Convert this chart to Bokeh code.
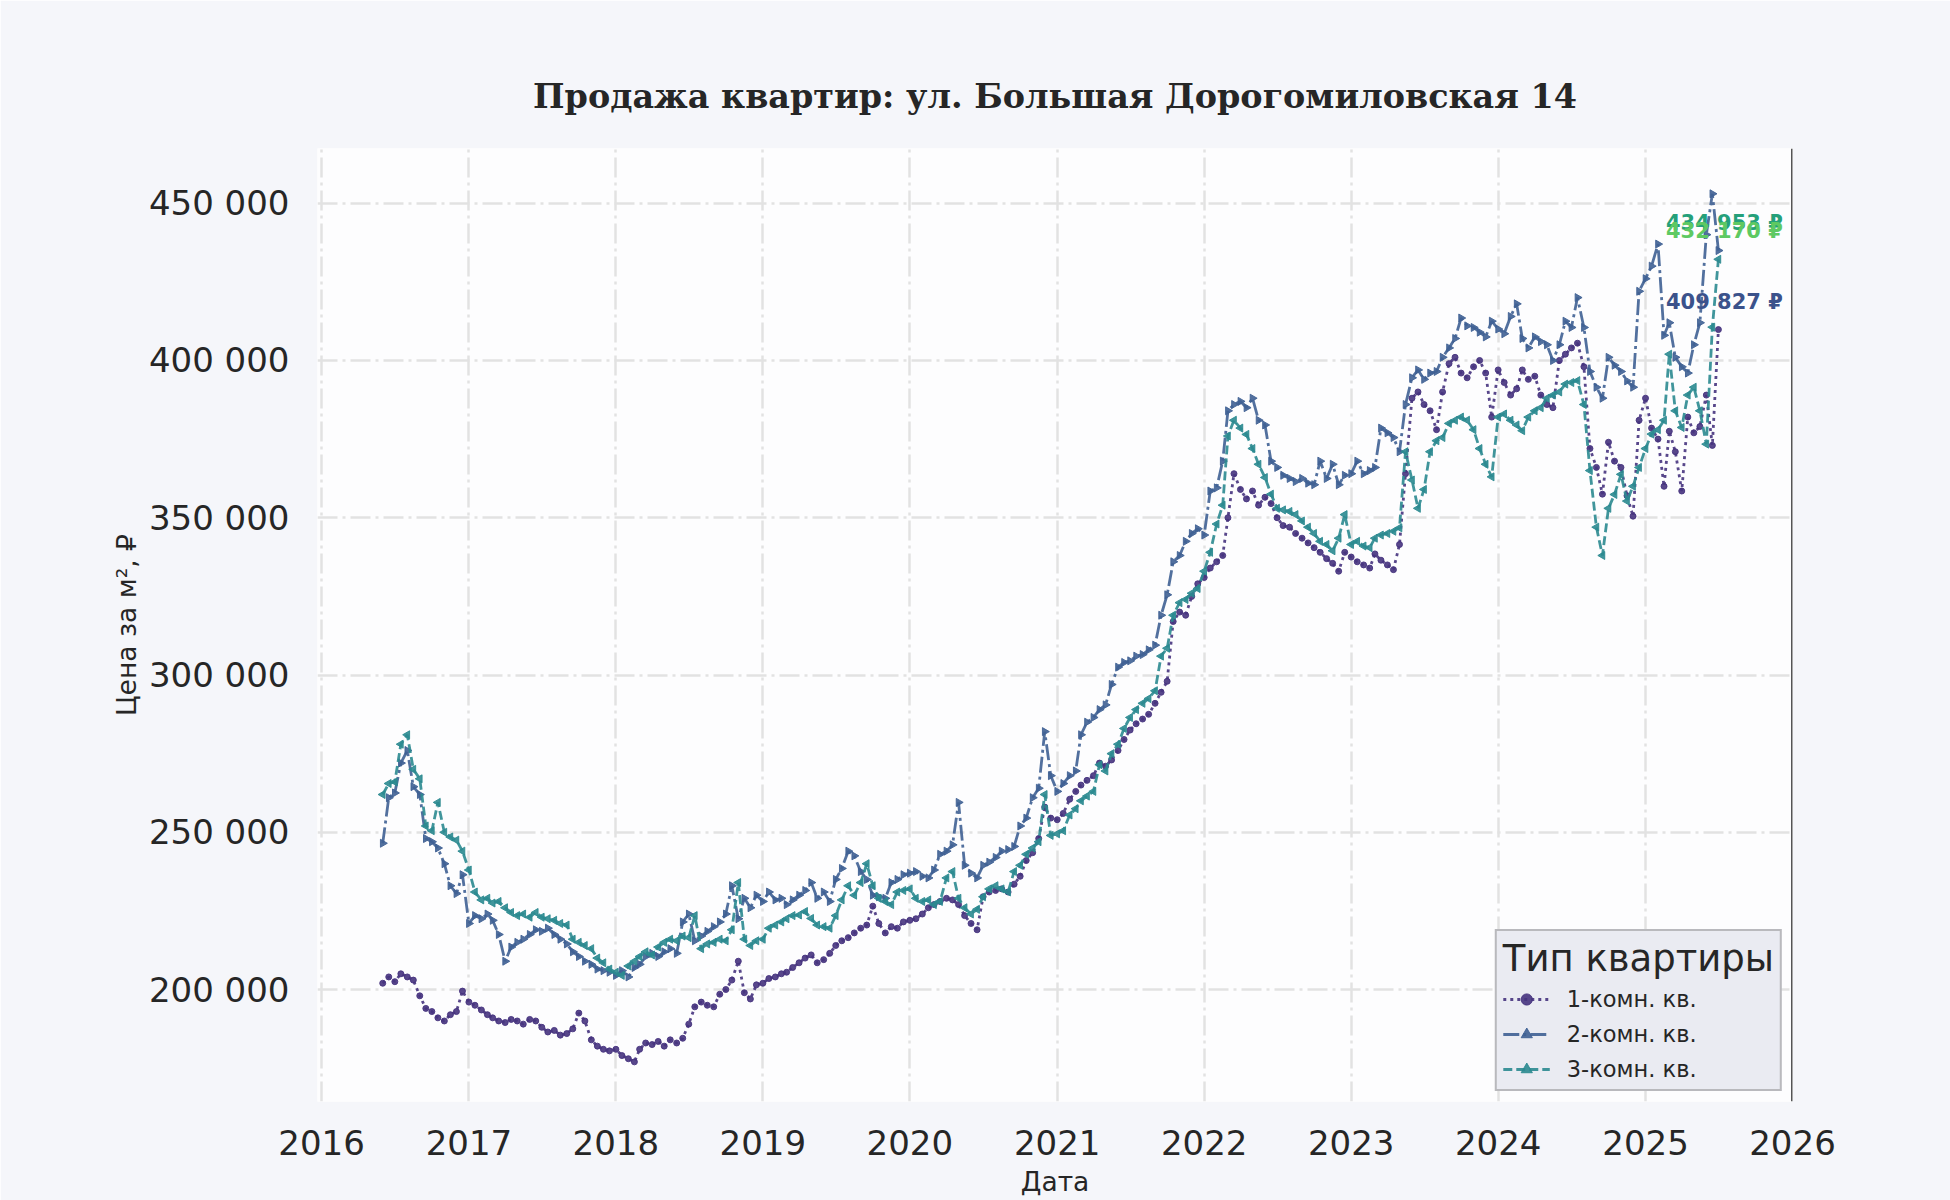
import numpy as np
import pandas as pd
from bokeh.plotting import figure
from bokeh.models import (ColumnDataSource, Range1d, FixedTicker, DatetimeTickFormatter,
                          CustomJSTickFormatter, Span, LabelSet, Legend, LegendItem)
from bokeh.core.properties import value, field
from bokeh.embed import file_html
from bokeh.resources import INLINE

# observations on the 1st and 16th of every month, Jun 2016 .. Jul 2025
dates = pd.to_datetime([f"{y}-{m:02d}-{d:02d}" for y in range(2016, 2026)
                        for m in range(1, 13) for d in (1, 16)])
dates = dates[(dates >= "2016-06-01") & (dates <= "2025-07-01")]

# price per m2, thousand rub
price_1 = np.array([
    202, 204, 202.5, 205, 204, 203, 198, 194, 193, 191, 190, 192, 193, 199.5,
    196, 195, 193.5, 192, 191, 190, 189.5, 190.5, 190, 189, 190.5, 190, 188, 186.5, 187, 185.5, 186, 187.5, 192.5, 190, 184, 182, 181, 180.5,
    181, 179, 178, 177, 181, 183, 182.5, 183.5, 182, 184, 183, 184.5, 189, 194.5, 196, 195, 194.5, 198.5, 200, 203, 209, 199, 197, 201.5,
    202, 203.5, 204, 205, 205.5, 207, 208.5, 210, 211, 208.5, 209.5, 211.5, 214, 215.5, 216.5, 218, 219.5, 220.5, 226.5, 221, 218, 220, 219.5, 221.5,
    222, 222.5, 224, 226, 227, 228, 229, 228.5, 227, 223.5, 221, 219, 229.5, 231, 231.5, 232, 231, 233.5, 236, 241, 243.5, 248, 258, 254.5,
    254, 256, 260.5, 263, 265, 266.5, 268, 272, 271, 273, 276, 279.5, 282.5, 284.5, 286, 287.5, 291, 294.5, 298, 317, 320, 319, 325, 329,
    331, 334, 336, 338, 350, 364, 359, 356, 358.5, 354, 356.5, 354.5, 350, 347.5, 347, 345, 343.5, 342, 340.5, 339, 337, 335.5, 333, 339,
    337.5, 336, 335, 334, 338.5, 336.5, 335, 333.5, 341.5, 364, 388, 390, 386, 384, 378, 390, 399, 401, 396, 394.5, 398, 400, 396, 382,
    397, 393, 389, 391, 397, 394, 395, 389, 386, 385, 400, 402, 404, 405.5, 398, 372, 366, 357.5, 374, 368, 366, 357, 350.5, 381,
    388, 378.5, 375, 360, 377.5, 371, 358.5, 382, 377, 379, 389, 373, 409.827,
]) * 1000

price_2 = np.array([
    246.5, 261, 262.5, 272, 276, 264.5, 262, 248, 247, 245, 240, 233, 230.5, 236.5,
    221, 223.5, 222.5, 224, 222, 217.5, 209, 213.5, 215, 216, 217.5, 219, 218.5, 219.5, 217.5, 216, 214.5, 212, 210.5, 209, 208, 206.5, 206, 205.5,
    204.5, 206, 204, 207, 208, 210.5, 211.5, 210.5, 212, 213, 211.5, 221.5, 224, 215.5, 217, 218.5, 220, 221.5, 224, 233, 222.5, 229, 226, 230,
    228, 231, 228.5, 229, 227, 228.5, 230, 231.5, 234, 229, 231, 228, 235, 238.5, 244, 242.5, 237.5, 235, 230, 229.5, 229, 234, 235, 236.5,
    237, 237.5, 236, 235.5, 238, 243, 244, 246, 259.5, 239.5, 237, 235.5, 239.5, 240.5, 242, 244, 244.5, 245.5, 252, 254.5, 261, 264, 282, 268,
    263, 265.5, 268, 269.5, 281, 285, 286.5, 289, 290.5, 297, 302.5, 304, 304.5, 306, 306.5, 308, 309.5, 319, 325.5, 336, 338, 342.5, 345, 346.5,
    344.5, 358.5, 359.5, 368, 384, 386, 387, 385, 388, 381, 379.5, 368, 366, 363.5, 362.5, 361.5, 362.5, 361, 360.5, 368, 362.5, 367, 360.5, 363.5,
    364, 368, 364, 365, 366, 378.5, 377, 375.5, 371, 386, 394.5, 397, 394, 396, 396.5, 401, 404, 407, 413.5, 411, 410.5, 409, 407.5, 412.5,
    410, 408.5, 414, 418, 407, 404, 407.5, 406, 405, 400, 405, 412.5, 410.5, 420, 410.5, 396.5, 391.5, 388, 401, 398.5, 396.5, 393.5, 391.5, 422,
    426, 430, 437, 408, 412, 401, 398, 396, 405, 412, 440, 453, 434.953,
]) * 1000

price_3 = np.array([
    262, 265.5, 266, 278, 281, 270, 267, 252, 250.5, 259.5, 250, 248.5, 247.5, 244,
    238, 231, 228.5, 229, 227.5, 228, 226, 224.5, 223.5, 224, 223, 224.5, 223, 222.5, 222, 221, 220.5, 216, 215, 214, 213, 210, 208.5, 206.5,
    205.5, 204.5, 207.5, 209, 210.5, 212, 211, 213.5, 215, 216, 215.5, 217, 216.5, 223.5, 213, 214.5, 215, 216, 215.5, 219, 234, 216, 214, 215.5,
    216, 219.5, 220.5, 221.5, 222.5, 223.5, 223.7, 224.8, 222.6, 220.5, 220, 219.5, 223.5, 228.5, 233, 230, 234, 240, 233, 229, 228, 227, 231, 231.5,
    232, 229, 228, 228.5, 227, 228, 235.5, 237.5, 229, 226, 224, 225.5, 229.5, 232, 233, 232, 231, 237.5, 239.5, 243, 245, 247, 262, 249,
    249.5, 250.5, 255.5, 257.5, 260, 261.5, 263, 271.5, 269.5, 275, 278, 283, 286.5, 289, 291, 292.5, 295, 306, 308.5, 319, 323, 324, 326, 327.5,
    333, 339, 348, 354, 376, 381, 378.5, 376.5, 372, 367, 362.8, 357.5, 353, 352.5, 352, 351, 349, 347, 345, 342.5, 341.5, 339.5, 343.5, 351,
    341.5, 342.5, 341, 340.5, 343.5, 344.5, 345, 345.7, 346.8, 371, 362, 353, 359, 371, 374.5, 375.5, 380, 381, 382, 381, 378, 372, 367, 363,
    382, 383, 381, 379.5, 377.7, 382, 384, 385, 388, 389, 390, 392.5, 393, 393.6, 386, 365, 347, 338, 353, 357.4, 363.8, 355.3, 360, 366,
    372, 376.6, 378, 381, 402, 384, 378.7, 389, 391.5, 384, 373.4, 410.6, 432.17,
]) * 1000

names = ["1-комн. кв.", "2-комн. кв.", "3-комн. кв."]
series = [price_1, price_2, price_3]
line_colors = ["#46337e", "#3f6094", "#2b8a90"]
end_colors = ["#3b528b", "#25a07a", "#5ec962"]
dashes = ["3 4", "16 4 3 4", "9 4"]
markers = [("circle", 6, 0.0), ("triangle", 8, -np.pi / 2), ("triangle", 8, np.pi / 2)]
years = list(range(2016, 2027))

p = figure(width=1950, height=1200, x_axis_type="datetime",
           x_range=Range1d(pd.Timestamp("2015-12-22"), pd.Timestamp("2026-01-01")),
           y_range=Range1d(164400, 467400),
           output_backend="svg", toolbar_location=None,
           min_border_left=317, min_border_right=158, min_border_top=148, min_border_bottom=99,
           background_fill_color="#fdfdfe", border_fill_color="#f5f6fa")
p.outline_line_color = None

p.title.text = "Продажа квартир: ул. Большая Дорогомиловская 14"
p.title.align = "center"
p.title.text_font = "DejaVu Serif"
p.title.text_font_style = "bold"
p.title.text_font_size = "33.4px"
p.title.text_color = "#262626"
p.title.standoff = 65

# grid
for g in (p.xgrid, p.ygrid):
    g.grid_line_color = "#e2e2e2"
    g.grid_line_width = 2.5
    g.grid_line_dash = "20 5 3 5"

# axes
year_ms = [pd.Timestamp(f"{y}-01-01").value // 10**6 for y in years]
p.xaxis.ticker = FixedTicker(ticks=year_ms)
p.xaxis.formatter = DatetimeTickFormatter(years="%Y", months="%Y", days="%Y")
p.yaxis.ticker = FixedTicker(ticks=list(range(200000, 450001, 50000)))
p.yaxis.formatter = CustomJSTickFormatter(
    code=r"return Math.round(tick).toString().replace(/\B(?=(\d{3})+(?!\d))/g, ' ');")
p.xaxis.axis_label = "Дата"
p.yaxis.axis_label = "Цена за м², ₽"
for ax in (p.xaxis, p.yaxis):
    ax.axis_line_color = None
    ax.major_tick_line_color = None
    ax.minor_tick_line_color = None
    ax.major_tick_out = 0
    ax.minor_tick_out = 0
    ax.major_label_text_font = "DejaVu Sans"
    ax.major_label_text_font_size = "34px"
    ax.major_label_text_color = "#262626"
    ax.axis_label_text_font = "DejaVu Sans"
    ax.axis_label_text_font_size = "26.5px"
    ax.axis_label_text_font_style = "normal"
    ax.axis_label_text_color = "#262626"
p.xaxis.major_label_standoff = 28
p.xaxis.axis_label_standoff = 8
p.yaxis.major_label_standoff = 28
p.yaxis.axis_label_standoff = 4

# right spine
p.add_layout(Span(location=year_ms[-1], dimension="height",
                  line_color="#555555", line_width=3))

items = []
for name, vals, col, dash, (mk, sz, ang) in zip(names, series, line_colors, dashes, markers):
    src = ColumnDataSource(dict(date=dates, price=vals))
    r_line = p.line("date", "price", source=src, line_color=col, line_width=2.8,
                    line_dash=dash, line_alpha=0.9)
    r_pts = p.scatter("date", "price", source=src, marker=mk, size=sz, angle=ang,
                      fill_color=col, line_color=col, alpha=0.9)
    items.append(LegendItem(label=name, renderers=[r_line, r_pts]))

# last values
last_src = ColumnDataSource(dict(
    date=[dates[-1]] * 3,
    price=[s[-1] for s in series],
    text=[f"{round(s[-1]):,}".replace(",", " ") + " ₽" for s in series],
    color=end_colors,
))
p.add_layout(LabelSet(x="date", y="price", text="text", source=last_src,
                      text_color=field("color"), text_font=value("DejaVu Sans"),
                      text_font_style="bold", text_font_size="21px",
                      text_align="center", text_baseline="middle",
                      x_offset=6, y_offset=28))

legend = Legend(items=items, title="Тип квартиры", location="bottom_right")
legend.title_text_font = "DejaVu Sans"
legend.title_text_font_size = "37px"
legend.title_text_font_style = "normal"
legend.title_text_color = "#262626"
legend.title_standoff = 5
legend.label_text_font = "DejaVu Sans"
legend.label_text_font_size = "22.5px"
legend.label_text_color = "#262626"
legend.background_fill_color = "#eaebf2"
legend.background_fill_alpha = 1.0
legend.border_line_color = "#888888"
legend.border_line_width = 2.5
legend.padding = 6
legend.margin = 10
legend.spacing = 7
legend.glyph_width = 47
legend.glyph_height = 28
legend.label_height = 28
legend.label_standoff = 17
p.add_layout(legend)

html = file_html(p, INLINE)
html = html.replace("<body>", '<body style="background-color:#f5f6fa;">', 1)
open("out.html", "w").write(html)
